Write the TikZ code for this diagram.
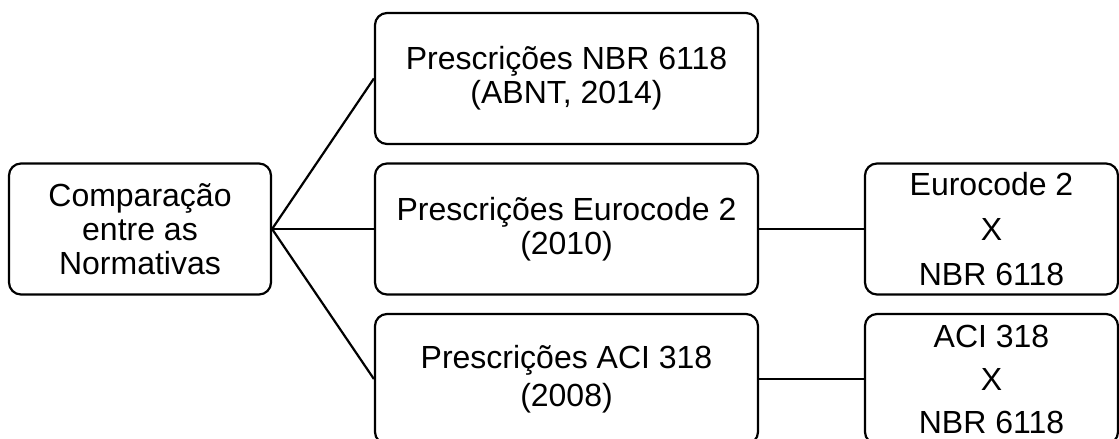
\documentclass[tikz,border=0pt]{standalone}
\usepackage{fontspec}
\setmainfont{Liberation Sans}
\usetikzlibrary{positioning}

\begin{document}
\begin{tikzpicture}[
  x=1pt, y=-1pt,
  font=\fontsize{32}{34}\selectfont,
  box/.style={draw, line width=2.2pt, rounded corners=12pt, align=center,
    inner sep=0pt, minimum height=131pt},
  wide/.style={box, minimum width=383pt},
  cmp/.style={box, minimum width=253pt, font=\fontsize{32}{45}\selectfont},
  link/.style={line width=2.2pt},
]
  \useasboundingbox (0,0) rectangle (1119,439);
  \clip (0,0) rectangle (1119,439);

  % Main box
  \node[box, minimum width=262pt] (comp) at (140,229) {Comparação\\entre as\\Normativas};

  % Code boxes
  \node[wide] (nbr) at (566.5,78.5) {Prescrições NBR 6118\\(ABNT, 2014)};
  \node[wide] (euro) at (566.5,229) {Prescrições Eurocode 2\\(2010)};
  \node[wide, minimum height=130pt, font=\fontsize{32}{38}\selectfont] (aci) at (566.5,379) {Prescrições ACI 318\\(2008)};

  % Comparison boxes
  \node[cmp] (euronbr) at (991.5,229) {Eurocode 2\\X\\NBR 6118};
  \node[cmp, minimum height=130pt, font=\fontsize{32}{43}\selectfont] (acinbr) at (991.5,379) {ACI 318\\X\\NBR 6118};

  % Connectors
  \draw[link] (comp.east) -- (nbr.west);
  \draw[link] (comp.east) -- (euro.west);
  \draw[link] (comp.east) -- (aci.west);
  \draw[link] (euro.east) -- (euronbr.west);
  \draw[link] (aci.east) -- (acinbr.west);
\end{tikzpicture}
\end{document}
